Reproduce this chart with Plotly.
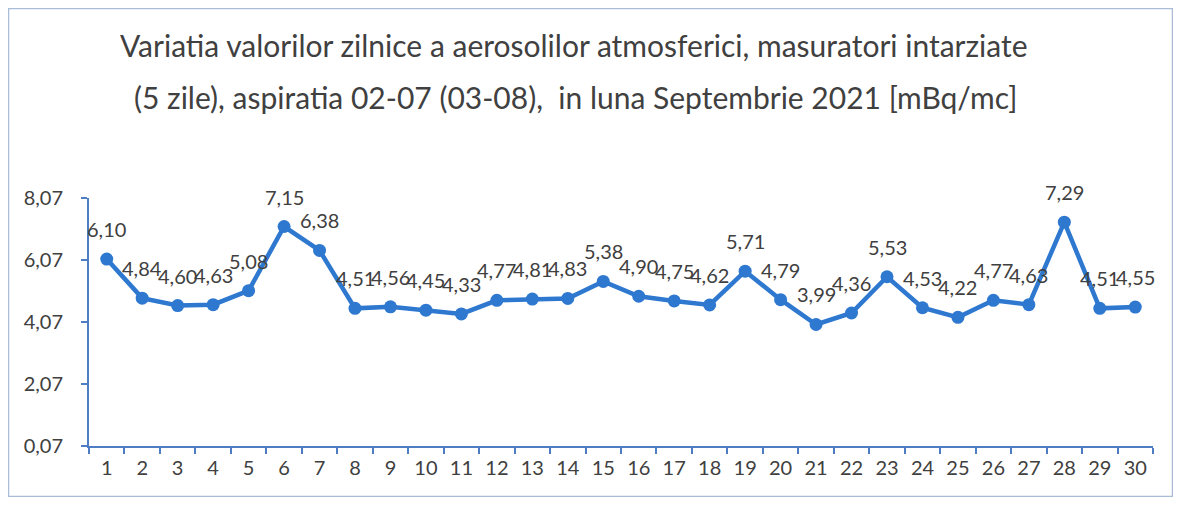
import plotly.graph_objects as go

days = [str(i) for i in range(1, 31)]
values = [6.10, 4.84, 4.60, 4.63, 5.08, 7.15, 6.38, 4.51, 4.56, 4.45,
          4.33, 4.77, 4.81, 4.83, 5.38, 4.90, 4.75, 4.62, 5.71, 4.79,
          3.99, 4.36, 5.53, 4.53, 4.22, 4.77, 4.63, 7.29, 4.51, 4.55]
ytick_vals = [0.07, 2.07, 4.07, 6.07, 8.07]
ytick_text = ["0,07", "2,07", "4,07", "6,07", "8,07"]
title_line1 = "Variatia valorilor zilnice a aerosolilor atmosferici, masuratori intarziate"
title_line2 = "(5 zile), aspiratia 02-07 (03-08),  in luna Septembrie 2021 [mBq/mc]"

# page has an 8px body margin: figure coordinates = page coordinates - 8
W, H = 1165, 489
L, R, T, B = 81, 1145, 190, 438
FONT = "Lato"
BLUE = "#2E78D0"
AXIS = "#4F7DC4"
GREY = "#404040"

def px2paper_x(px):
    return (px - L) / (R - L)

def px2paper_y(py):
    return (B - py) / (B - T)

fig = go.Figure()
fig.add_trace(go.Scatter(
    x=days, y=values, mode="lines+markers",
    line=dict(color=BLUE, width=4.5),
    marker=dict(color=BLUE, size=13),
    hoverinfo="skip", showlegend=False,
))

annotations = []
for i, v in enumerate(values):
    annotations.append(dict(
        x=i, y=v, xref="x", yref="y",
        text=f"{v:.2f}".replace(".", ","),
        showarrow=False, yshift=30,
        font=dict(family=FONT, size=20, color=GREY),
    ))
annotations.append(dict(
    x=px2paper_x(566), y=px2paper_y(37), xref="paper", yref="paper",
    text=title_line1, showarrow=False, xanchor="center", yanchor="middle",
    font=dict(family=FONT, size=30, color=GREY),
))
annotations.append(dict(
    x=px2paper_x(567), y=px2paper_y(89), xref="paper", yref="paper",
    text=title_line2, showarrow=False, xanchor="center", yanchor="middle",
    font=dict(family=FONT, size=30, color=GREY),
))

fig.update_layout(
    width=W, height=H,
    margin=dict(l=L, r=W - R, t=T, b=H - B, pad=0),
    paper_bgcolor="white", plot_bgcolor="white",
    annotations=annotations,
    shapes=[dict(
        type="rect", xref="paper", yref="paper",
        x0=px2paper_x(0.5), x1=px2paper_x(W - 0.5),
        y0=px2paper_y(H - 0.5), y1=px2paper_y(0.5),
        line=dict(color="#A9BCD8", width=1.5), fillcolor="rgba(0,0,0,0)",
        layer="below",
    )],
    xaxis=dict(
        type="category", showgrid=False, zeroline=False,
        showline=True, linecolor=AXIS, linewidth=2,
        ticks="outside", ticklen=6, tickcolor=AXIS, tickwidth=1.5,
        tickson="boundaries", ticklabelstandoff=3,
        tickfont=dict(family=FONT, size=20, color=GREY),
        range=[-0.5, 29.5],
    ),
    yaxis=dict(
        range=[0.07, 8.07], tickvals=ytick_vals, ticktext=ytick_text,
        showgrid=False, zeroline=False,
        showline=True, linecolor=AXIS, linewidth=2,
        ticks="outside", ticklen=6, tickcolor=AXIS, tickwidth=1.5,
        ticklabelstandoff=14,
        tickfont=dict(family=FONT, size=20, color=GREY),
    ),
)

fig.write_html("out.html")
